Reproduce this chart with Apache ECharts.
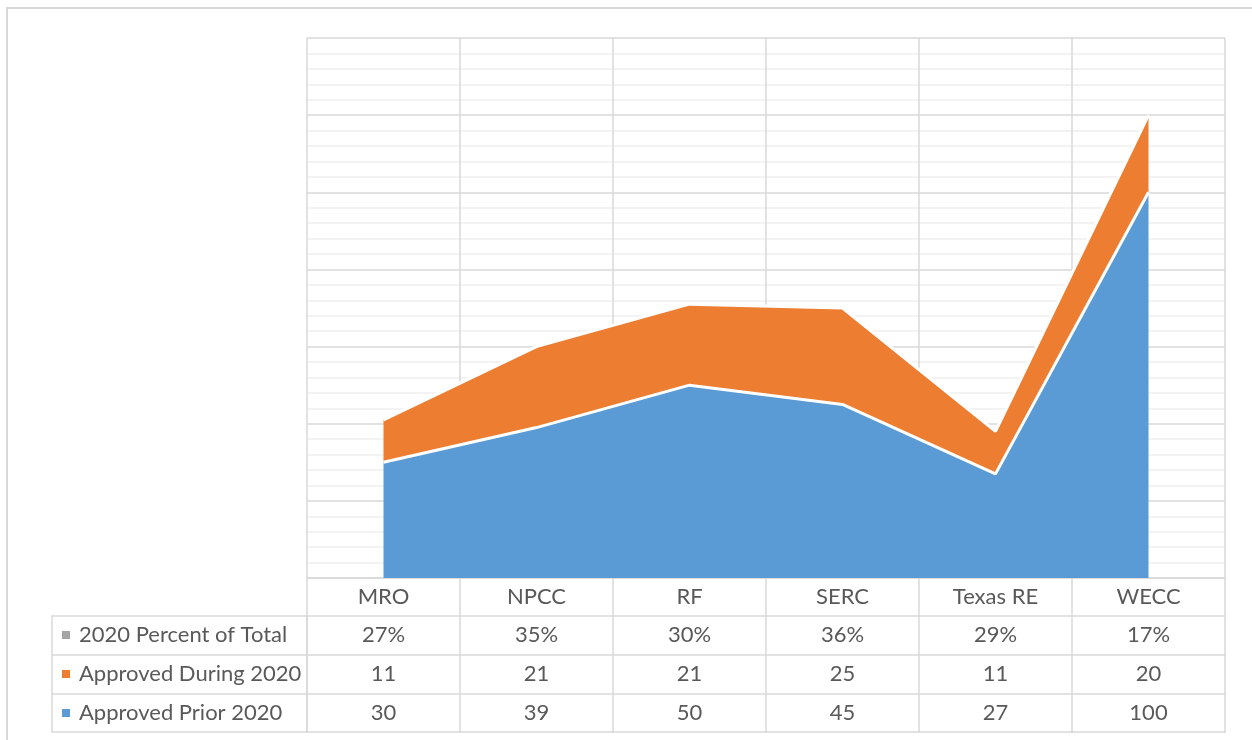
<!DOCTYPE html>
<html>
<head>
<meta charset="utf-8">
<script src="https://cdn.jsdelivr.net/npm/echarts@6/dist/echarts.min.js"></script>
<style>
  html, body { margin: 0; padding: 0; background: #fff; }
  #chart { width: 1252px; height: 740px; }
</style>
</head>
<body>
<div id="chart"></div>
<script>
'use strict'

const regions = ['MRO', 'NPCC', 'RF', 'SERC', 'Texas RE', 'WECC'];
const percentOfTotal = [27, 35, 30, 36, 29, 17];
const approvedDuring = [11, 21, 21, 25, 11, 20];
const approvedPrior = [30, 39, 50, 45, 27, 100];

const FONT = 'Lato, sans-serif';
const TEXT = '#595959';
const LINE = '#d9d9d9';

// one table row drawn as an extra category axis under the plot
function tableRow(offset, values, fmt)
{
    return {
        type: 'category',
        data: regions,
        position: 'bottom',
        offset: offset,
        boundaryGap: true,
        axisLine: { show: true, lineStyle: { color: LINE, width: 1.5 } },
        axisTick: { show: values !== null, length: 39, interval: 0, lineStyle: { color: LINE, width: 1.5 } },
        axisLabel: {
            show: values !== null,
            interval: 0,
            margin: 8,
            fontFamily: FONT,
            fontSize: 22,
            color: TEXT,
            formatter: (v, i) => values ? fmt(values[i]) : ''
        },
        splitLine: { show: false }
    };
}

const chart = echarts.init(document.getElementById('chart'));
const option = {
    animation: false,
    backgroundColor: '#fff',
    grid: { left: 307, top: 38, width: 918, height: 540 },
    legend: {
        orient: 'vertical',
        left: 62,
        top: 624,
        padding: 0,
        itemGap: 17,
        icon: 'rect',
        itemWidth: 8,
        itemHeight: 8,
        selectedMode: false,
        textStyle: { fontFamily: FONT, fontSize: 22, color: TEXT, lineHeight: 22, padding: [0, 0, 0, 4] },
        data: ['2020 Percent of Total', 'Approved During 2020', 'Approved Prior 2020']
    },
    xAxis: [
        {
            type: 'category',
            data: regions,
            boundaryGap: true,
            axisLine: { show: true, lineStyle: { color: LINE, width: 1.5 } },
            axisTick: { show: true, length: 38, interval: 0, lineStyle: { color: LINE, width: 1.5 } },
            axisLabel: { interval: 0, margin: 8, fontFamily: FONT, fontSize: 22, color: TEXT },
            splitLine: { show: true, interval: 0, lineStyle: { color: LINE, width: 1.5 } }
        },
        tableRow(38, percentOfTotal, v => v + '%'),
        tableRow(77, approvedDuring, v => String(v)),
        tableRow(116, approvedPrior, v => String(v)),
        tableRow(154, null, null)
    ],
    yAxis: {
        type: 'value',
        min: 0,
        max: 140,
        interval: 20,
        axisLabel: { show: false },
        axisLine: { show: false },
        axisTick: { show: false },
        minorTick: { show: false, splitNumber: 5 },
        splitLine: { lineStyle: { color: LINE, width: 1.5 } },
        minorSplitLine: { show: true, lineStyle: { color: '#efefef', width: 1.5 } }
    },
    series: [
        {
            name: 'Approved Prior 2020',
            type: 'line',
            stack: 'total',
            z: 4,
            data: approvedPrior,
            showSymbol: false,
            itemStyle: { color: '#5b9bd5' },
            lineStyle: { color: '#fff', width: 3 },
            areaStyle: { color: '#5b9bd5', opacity: 1 }
        },
        {
            name: 'Approved During 2020',
            type: 'line',
            stack: 'total',
            z: 3,
            data: approvedDuring,
            showSymbol: false,
            itemStyle: { color: '#ed7d31' },
            lineStyle: { color: '#fff', width: 3 },
            areaStyle: { color: '#ed7d31', opacity: 1 }
        },
        {
            name: '2020 Percent of Total',
            type: 'line',
            data: percentOfTotal,
            showSymbol: false,
            silent: true,
            itemStyle: { color: '#a5a5a5' },
            lineStyle: { opacity: 0 }
        }
    ],
    graphic: [
        { type: 'rect', shape: { x: 7, y: 8, width: 1260, height: 760 }, style: { fill: null, stroke: LINE, lineWidth: 2 } },
        { type: 'rect', shape: { x: 52, y: 616, width: 255, height: 116 }, style: { fill: null, stroke: LINE, lineWidth: 1.5 } },
        { type: 'line', shape: { x1: 52, y1: 655, x2: 307, y2: 655 }, style: { stroke: LINE, lineWidth: 1.5 } },
        { type: 'line', shape: { x1: 52, y1: 694, x2: 307, y2: 694 }, style: { stroke: LINE, lineWidth: 1.5 } }
    ]
};
chart.setOption(option);
</script>
</body>
</html>
